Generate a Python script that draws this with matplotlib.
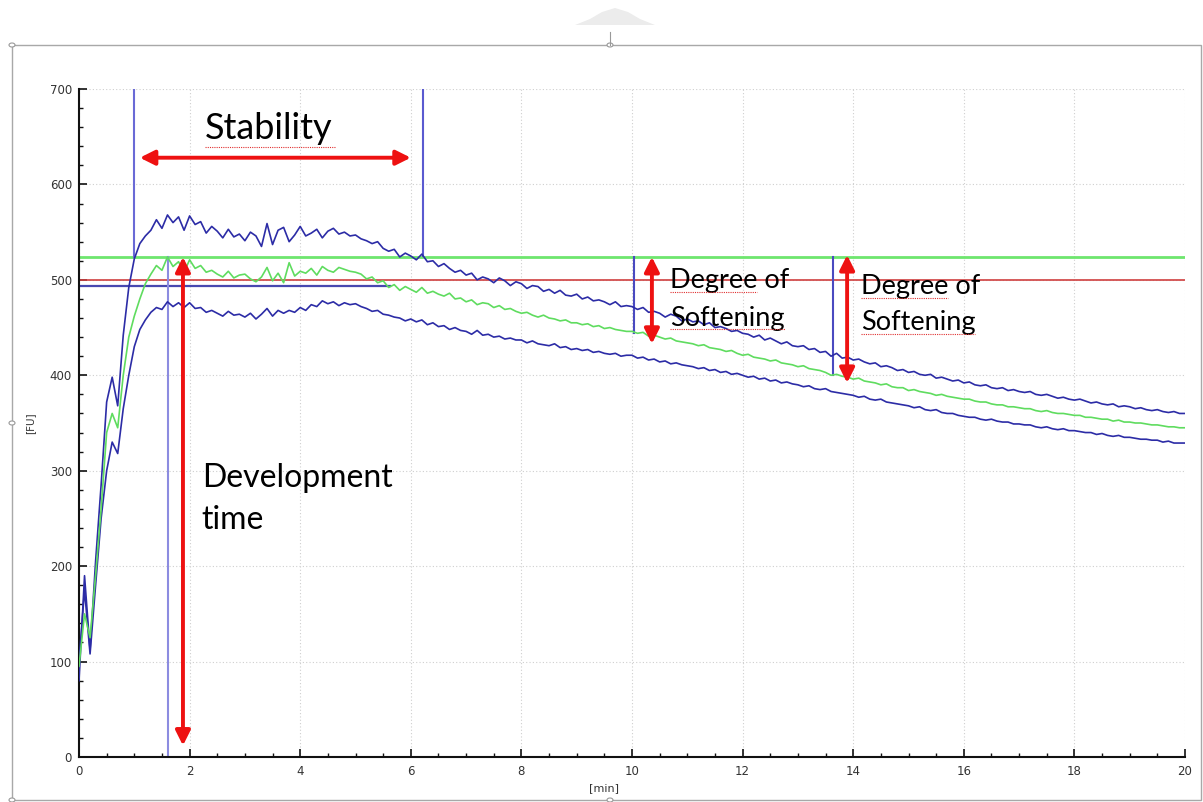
import numpy as np
import matplotlib
matplotlib.use("Agg")
import matplotlib.pyplot as plt
from matplotlib.patches import Rectangle, Polygon, Circle
from matplotlib.lines import Line2D

# ---------------- data ----------------
time_min = np.round(np.arange(0, 20.001, 0.1), 1)

upper_fu = [
    80, 190, 112, 205, 285, 372, 398, 368, 442, 492,
    522, 538, 546, 552, 563, 554, 568, 560, 566, 552,
    567, 558, 561, 549, 556, 551, 544, 553, 545, 548,
    541, 550, 546, 535, 559, 537, 552, 555, 540, 547,
    556, 546, 549, 553, 544, 551, 554, 548, 550, 546,
    547, 543, 541, 538, 540, 533, 530, 532, 524, 528,
    525, 521, 527, 519, 520, 514, 517, 512, 508, 510,
    505, 507, 500, 503, 501, 497, 502, 499, 494, 498,
    496, 491, 494, 493, 488, 490, 486, 489, 484, 483,
    485, 480, 482, 478, 479, 477, 474, 477, 472, 473,
    472, 469, 471, 466, 467, 465, 461, 464, 462, 457,
    459, 456, 457, 453, 455, 450, 451, 449, 446, 447,
    444, 443, 440, 442, 437, 439, 436, 433, 435, 431,
    430, 431, 427, 428, 424, 425, 420, 423, 418, 419,
    416, 417, 414, 412, 413, 409, 410, 408, 405, 406,
    403, 404, 401, 400, 401, 397, 398, 396, 394, 395,
    392, 393, 390, 389, 390, 387, 386, 387, 384, 385,
    383, 382, 383, 380, 379, 380, 378, 376, 377, 375,
    374, 375, 373, 371, 372, 370, 369, 370, 367, 368,
    367, 365, 366, 364, 363, 364, 362, 361, 362, 360,
    360]

middle_fu = [
    95, 150, 125, 190, 260, 340, 360, 345, 400, 440,
    462, 480, 496, 506, 515, 510, 524, 514, 519, 508,
    521, 512, 515, 508, 510, 506, 503, 509, 502, 505,
    506, 501, 498, 503, 513, 499, 507, 497, 518, 504,
    509, 507, 512, 505, 514, 510, 508, 513, 511, 509,
    508, 506, 501, 503, 497, 499, 492, 495, 489, 493,
    490, 487, 492, 486, 488, 485, 483, 486, 480, 481,
    477, 479, 474, 476, 475, 471, 473, 469, 470, 467,
    465, 466, 463, 461, 463, 460, 459, 457, 458, 455,
    455, 453, 454, 451, 452, 449, 450, 448, 447, 446,
    446, 444, 445, 441, 442, 440, 438, 439, 436, 435,
    434, 433, 431, 432, 429, 428, 427, 425, 426, 423,
    421, 422, 419, 418, 417, 415, 416, 413, 412, 411,
    409, 410, 407, 406, 405, 403, 400, 401, 399, 398,
    396, 397, 394, 393, 392, 390, 391, 388, 387, 387,
    384, 385, 383, 382, 381, 379, 380, 378, 377, 376,
    375, 375, 373, 372, 372, 370, 369, 369, 367, 367,
    366, 365, 365, 363, 362, 363, 361, 360, 360, 359,
    358, 358, 356, 356, 355, 354, 354, 352, 353, 351,
    351, 350, 350, 349, 348, 348, 347, 346, 346, 345,
    345]

lower_fu = [
    100, 175, 108, 180, 250, 300, 330, 318, 365, 400,
    430, 448, 458, 466, 471, 469, 477, 472, 476, 471,
    476, 470, 471, 466, 468, 465, 462, 467, 463, 464,
    461, 465, 459, 464, 470, 462, 468, 465, 468, 466,
    471, 468, 474, 472, 478, 475, 477, 473, 476, 474,
    475, 472, 470, 467, 468, 464, 463, 461, 460, 457,
    459, 456, 458, 453, 455, 451, 452, 448, 450, 447,
    446, 443, 447, 442, 443, 440, 441, 438, 439, 437,
    437, 434, 436, 433, 432, 431, 433, 429, 430, 427,
    428, 426, 427, 424, 425, 423, 422, 423, 420, 421,
    421, 418, 419, 416, 417, 414, 415, 412, 413, 411,
    410, 409, 407, 408, 405, 406, 403, 404, 401, 402,
    400, 398, 399, 396, 397, 394, 395, 392, 393, 391,
    390, 388, 389, 386, 385, 386, 383, 382, 381, 380,
    379, 377, 378, 375, 374, 375, 372, 371, 370, 369,
    368, 366, 367, 364, 363, 364, 361, 360, 360, 358,
    357, 356, 356, 354, 353, 354, 352, 351, 351, 349,
    349, 348, 348, 346, 345, 346, 344, 343, 344, 342,
    342, 341, 340, 340, 338, 339, 337, 336, 337, 335,
    335, 334, 333, 333, 332, 332, 330, 331, 329, 329,
    329]

peak_level = 524          # green horizontal line
line_500 = 500            # red reference line
arrival_level = 494       # blue horizontal line
arrival_end = 5.62

stab_start, stab_end = 1.0, 6.22
stab_start_bottom, stab_end_bottom = 524, 525
dev_time = 1.61
dos_times = [10.04, 13.63]
dos_bottoms = [444, 400]

# annotation arrows
stab_arrow_x = [1.1, 6.0]
stab_arrow_y = 628
dev_arrow_x = 1.88
dev_arrow_y = [12, 524]
dos_arrow_x = [10.36, 13.89]
dos_arrow_y = [[524, 433], [526, 392]]

# ---------------- figure ----------------
W, H = 1203, 802
fig = plt.figure(figsize=(W / 100, H / 100), dpi=100)
fig.patch.set_facecolor("white")

def fx(x):
    return x / W

def fy(y):
    return 1 - y / H

ax = fig.add_axes([fx(79), fy(757), fx(1185) - fx(79), fy(89) - fy(757)])
ax.set_xlim(0, 20)
ax.set_ylim(0, 700)

BLUE = "#2c2ca6"
GREEN = "#5fdc5f"

ax.axhline(peak_level, color="#6ee66e", lw=2.0, zorder=2)
ax.axhline(line_500, color="#d04040", lw=1.2, zorder=2)
ax.plot([0, arrival_end], [arrival_level, arrival_level], color="#4848b0", lw=1.6, zorder=2)

ax.plot([stab_start, stab_start], [stab_start_bottom, 700], color="#6a6ad6", lw=1.5, zorder=2)
ax.plot([stab_end, stab_end], [stab_end_bottom, 700], color="#5a5ad0", lw=1.5, zorder=2)
ax.plot([dev_time, dev_time], [0, peak_level], color="#8c8ce0", lw=1.5, zorder=2)
for t, b in zip(dos_times, dos_bottoms):
    ax.plot([t, t], [b, peak_level], color="#4a4ac0", lw=1.5, zorder=2)

ax.plot(time_min, upper_fu, color=BLUE, lw=1.2, zorder=3)
ax.plot(time_min, lower_fu, color=BLUE, lw=1.2, zorder=3)
ax.plot(time_min, middle_fu, color=GREEN, lw=1.2, zorder=3)

arrow_kw = dict(arrowstyle="<|-|>", color="#ee1111", lw=2.8, mutation_scale=22,
                shrinkA=0, shrinkB=0)
ax.annotate("", xy=(stab_arrow_x[0], stab_arrow_y), xytext=(stab_arrow_x[1], stab_arrow_y),
            arrowprops=arrow_kw, zorder=5)
ax.annotate("", xy=(dev_arrow_x, dev_arrow_y[0]), xytext=(dev_arrow_x, dev_arrow_y[1]),
            arrowprops=arrow_kw, zorder=5)
for x, (y0, y1) in zip(dos_arrow_x, dos_arrow_y):
    ax.annotate("", xy=(x, y0), xytext=(x, y1), arrowprops=arrow_kw, zorder=5)

TF = "Lato"
ax.text(2.28, 659, "Stability", fontsize=26, family=TF, va="center", ha="left", zorder=6)
ax.text(2.22, 292, "Development", fontsize=23, family=TF, va="center", ha="left", zorder=6)
ax.text(2.22, 248, "time", fontsize=23, family=TF, va="center", ha="left", zorder=6)
ax.text(10.69, 499, "Degree of", fontsize=19.5, family=TF, va="center", ha="left", zorder=6)
ax.text(10.69, 460, "Softening", fontsize=19.5, family=TF, va="center", ha="left", zorder=6)
ax.text(14.14, 493, "Degree of", fontsize=19.5, family=TF, va="center", ha="left", zorder=6)
ax.text(14.14, 455, "Softening", fontsize=19.5, family=TF, va="center", ha="left", zorder=6)

# axes styling
for s in ["top", "right"]:
    ax.spines[s].set_visible(False)
for s in ["left", "bottom"]:
    ax.spines[s].set_color("#111111")
    ax.spines[s].set_linewidth(1.5)
ax.set_xticks(np.arange(0, 21, 2))
ax.set_xticks(np.arange(0, 20.01, 0.5), minor=True)
ax.set_yticks(np.arange(0, 701, 100))
ax.set_yticks(np.arange(0, 701, 20), minor=True)
ax.tick_params(which="major", direction="in", length=6, width=1.2, colors="#111111",
               labelcolor="#333333", labelsize=8.5)
ax.tick_params(which="minor", direction="in", length=3, width=1.0, colors="#111111")
ax.tick_params(axis="x", pad=6)
ax.tick_params(axis="y", pad=5)
ax.grid(which="major", color="#cfcfcf", linestyle=(0, (1, 2)), lw=0.8)
ax.set_axisbelow(True)

fig.text(fx(30), fy(423), "[FU]", rotation=90, fontsize=7.5, color="#333333",
         ha="center", va="center")
fig.text(fx(604), fy(788), "[min]", fontsize=8, color="#333333", ha="center", va="center")

# spell-check style underlines
underlines = [(205, 335, 147), (670, 757, 292), (670, 785, 329), (861, 948, 298), (861, 975, 334)]
for x0, x1, y in underlines:
    fig.add_artist(Line2D([fx(x0), fx(x1)], [fy(y), fy(y)], color="#e03030", lw=0.8,
                          linestyle=(0, (1, 1))))

# screenshot frame
fig.add_artist(Rectangle((fx(12), fy(800)), fx(1201) - fx(12), fy(45) - fy(800),
                         fill=False, edgecolor="#a8a8a8", lw=1.0))
for hx, hy in [(12, 45), (610, 45), (12, 423), (610, 800), (12, 800)]:
    fig.add_artist(Circle((fx(hx), fy(hy)), radius=3 / W, facecolor="white",
                          edgecolor="#999999", lw=0.8))
fig.add_artist(Line2D([fx(610), fx(610)], [fy(45), fy(32)], color="#999999", lw=0.8))
hill = [(575, 25), (590, 19), (602, 12), (615, 8), (628, 12), (640, 19), (655, 25)]
fig.add_artist(Polygon([(fx(a), fy(b)) for a, b in hill], closed=True,
                       facecolor="#ececec", edgecolor="none"))

fig.savefig("out.png", dpi=100)
